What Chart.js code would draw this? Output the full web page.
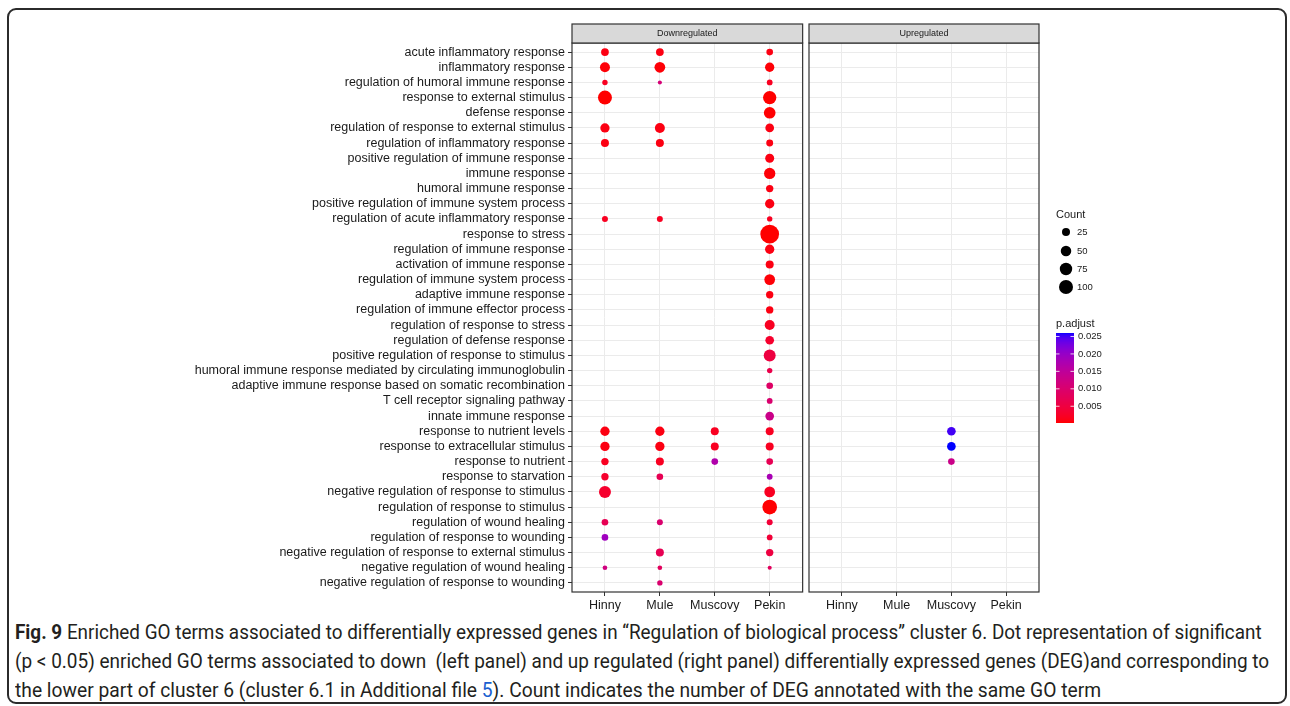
<!DOCTYPE html>
<html>
<head>
<meta charset="utf-8">
<script src="https://cdn.jsdelivr.net/npm/chart.js@4/dist/chart.umd.min.js"></script>
<style>
  body { margin: 0; background: #fff; }
  #wrap { position: relative; width: 1290px; height: 706px; overflow: hidden; }
  #frame { position: absolute; left: 7px; top: 8px; width: 1280px; height: 696px; border: 2px solid #2b2b2b; border-radius: 9px; box-sizing: border-box; }
  canvas { position: absolute; top: 0; }
  #down { left: 180px; }
  #up { left: 800px; }
  .cap { position: absolute; left: 15px; font-family: 'Liberation Sans Narrow', 'Roboto', sans-serif; font-size: 20px; line-height: 28px; color: #231f20; white-space: nowrap; transform-origin: 0 50%; }
  .cap a { color: #1a5fd0; text-decoration: none; }
</style>
</head>
<body>
<div id="wrap">
  <div id="frame"></div>
  <canvas id="down" width="632" height="618"></canvas>
  <canvas id="up" width="490" height="618"></canvas>
  <div class="cap" id="cap1" data-w="1247" style="top:618px"><b>Fig. 9</b> Enriched GO terms associated to differentially expressed genes in “Regulation of biological process” cluster 6. Dot representation of significant</div>
  <div class="cap" id="cap2" data-w="1254" style="top:647px">(p &lt; 0.05) enriched GO terms associated to down &nbsp;(left panel) and up regulated (right panel) differentially expressed genes (DEG)and corresponding to</div>
  <div class="cap" id="cap3" data-w="1086" style="top:676px">the lower part of cluster 6 (cluster 6.1 in Additional file <a>5</a>). Count indicates the number of DEG annotated with the same GO term</div>
</div>
<script>
const species = ['Hinny', 'Mule', 'Muscovy', 'Pekin'];
const terms = [
  'acute inflammatory response',
  'inflammatory response',
  'regulation of humoral immune response',
  'response to external stimulus',
  'defense response',
  'regulation of response to external stimulus',
  'regulation of inflammatory response',
  'positive regulation of immune response',
  'immune response',
  'humoral immune response',
  'positive regulation of immune system process',
  'regulation of acute inflammatory response',
  'response to stress',
  'regulation of immune response',
  'activation of immune response',
  'regulation of immune system process',
  'adaptive immune response',
  'regulation of immune effector process',
  'regulation of response to stress',
  'regulation of defense response',
  'positive regulation of response to stimulus',
  'humoral immune response mediated by circulating immunoglobulin',
  'adaptive immune response based on somatic recombination',
  'T cell receptor signaling pathway',
  'innate immune response',
  'response to nutrient levels',
  'response to extracellular stimulus',
  'response to nutrient',
  'response to starvation',
  'negative regulation of response to stimulus',
  'regulation of response to stimulus',
  'regulation of wound healing',
  'regulation of response to wounding',
  'negative regulation of response to external stimulus',
  'negative regulation of wound healing',
  'negative regulation of response to wounding'
];

const n = null;
// Downregulated panel: gene count and p.adjust per term (null = not enriched)
const downHinnyCount = [23, 44, 8, 100, n, 37, 25, n, n, n, n, 11,
  n, n, n, n, n, n, n, n, n, n, n, n, n,
  37, 37, 20, 20, 69, n, 15, 15, n, 5, n];
const downHinnyP = [0.001, 0.0005, 0.002, 0.0002, n, 0.001, 0.001, n, n, n, n, 0.002,
  n, n, n, n, n, n, n, n, n, n, n, n, n,
  0.001, 0.001, 0.002, 0.003, 0.003, n, 0.007, 0.019, n, 0.012, n];

const downMuleCount = [23, 53, 3, n, n, 44, 25, n, n, n, n, 11,
  n, n, n, n, n, n, n, n, n, n, n, n, n,
  37, 37, 25, 15, n, n, 11, n, 25, 5, 8];
const downMuleP = [0.001, 0.0005, 0.011, n, n, 0.001, 0.001, n, n, n, n, 0.002,
  n, n, n, n, n, n, n, n, n, n, n, n, n,
  0.001, 0.001, 0.002, 0.007, n, n, 0.010, n, 0.007, 0.008, 0.010];

const downMuscovyCount = [n, n, n, n, n, n, n, n, n, n, n, n,
  n, n, n, n, n, n, n, n, n, n, n, n, n,
  25, 25, 15, n, n, n, n, n, n, n, n];
const downMuscovyP = [n, n, n, n, n, n, n, n, n, n, n, n,
  n, n, n, n, n, n, n, n, n, n, n, n, n,
  0.002, 0.002, 0.017, n, n, n, n, n, n, n, n];

const downPekinCount = [15, 37, 10, 89, 65, 31, 17, 34, 60, 20, 37, 8,
  194, 37, 25, 53, 20, 20, 44, 31, 69, 8, 15, 10, 31,
  25, 25, 15, 10, 53, 112, 11, 10, 20, 3, n];
const downPekinP = [0.001, 0.0005, 0.002, 0.0002, 0.0003, 0.001, 0.001, 0.001, 0.0005, 0.001, 0.001, 0.002,
  0.0002, 0.001, 0.001, 0.0005, 0.001, 0.001, 0.002, 0.003, 0.005, 0.006, 0.009, 0.010, 0.013,
  0.002, 0.002, 0.007, 0.018, 0.002, 0.0003, 0.004, 0.004, 0.005, 0.008, n];

// Upregulated panel: only Muscovy has enriched terms
const upMuscovyCount = [n, n, n, n, n, n, n, n, n, n, n, n,
  n, n, n, n, n, n, n, n, n, n, n, n, n,
  31, 31, 15, n, n, n, n, n, n, n, n];
const upMuscovyP = [n, n, n, n, n, n, n, n, n, n, n, n,
  n, n, n, n, n, n, n, n, n, n, n, n, n,
  0.025, 0.026, 0.013, n, n, n, n, n, n, n, n];

const countBreaks = [25, 50, 75, 100];
const pBreaks = [0.005, 0.010, 0.015, 0.020, 0.025];

const allP = [].concat(downHinnyP, downMuleP, downMuscovyP, downPekinP, upMuscovyP).filter(v => v != null);
const pMin = Math.min(...allP);
const pMax = Math.max(...allP);

// dot radius grows with sqrt(count), like ggplot's size scale
const radius = (count) => 1 + 0.6 * Math.sqrt(count);

// red -> blue gradient interpolated in Lab space
const labRed = [53.24, 80.09, 67.2];
const labBlue = [32.3, 79.19, -107.86];
function labToRgb(L, a, b) {
  let y = (L + 16) / 116, x = a / 500 + y, z = y - b / 200;
  const f = (t) => (t ** 3 > 0.008856 ? t ** 3 : (t - 16 / 116) / 7.787);
  x = 0.95047 * f(x); y = f(y); z = 1.08883 * f(z);
  let r = x * 3.2406 + y * -1.5372 + z * -0.4986;
  let g = x * -0.9689 + y * 1.8758 + z * 0.0415;
  let bl = x * 0.0557 + y * -0.204 + z * 1.057;
  const gam = (c) => (c > 0.0031308 ? 1.055 * Math.pow(c, 1 / 2.4) - 0.055 : 12.92 * c);
  return [r, g, bl].map(c => Math.round(Math.max(0, Math.min(1, gam(c))) * 255));
}
function pColor(p) {
  const t = Math.max(0, Math.min(1, (p - pMin) / (pMax - pMin)));
  const lab = labRed.map((v, i) => v + (labBlue[i] - v) * t);
  const [r, g, b] = labToRgb(...lab);
  return `rgb(${r},${g},${b})`;
}

function makeDataset(sIdx, counts, ps) {
  const pts = [];
  counts.forEach((c, i) => {
    if (c != null) pts.push({ x: sIdx, y: i, r: radius(c), count: c, p: ps[i] });
  });
  return {
    label: species[sIdx],
    data: pts,
    backgroundColor: (ctx) => (ctx.raw ? pColor(ctx.raw.p) : '#f00'),
    borderWidth: 0,
    hoverRadius: 0
  };
}

const axisFont = { family: "'Liberation Sans', Arial, sans-serif", size: 12.5 };

const panelFrame = {
  id: 'panelFrame',
  afterDatasetsDraw(chart, args, opts) {
    const { ctx, chartArea: a } = chart;
    const w = a.right - a.left;
    ctx.save();
    ctx.strokeStyle = '#333';
    ctx.lineWidth = 1.2;
    ctx.strokeRect(a.left, a.top, w, a.bottom - a.top);
    ctx.fillStyle = '#d9d9d9';
    ctx.fillRect(a.left, a.top - 19, w, 19);
    ctx.strokeRect(a.left, a.top - 19, w, 19);
    ctx.fillStyle = '#1a1a1a';
    ctx.font = "9px 'Liberation Sans', Arial, sans-serif";
    ctx.textAlign = 'center';
    ctx.textBaseline = 'middle';
    ctx.fillText(opts.title, a.left + w / 2, a.top - 9);
    ctx.restore();
  }
};

const legendPanel = {
  id: 'legendPanel',
  afterDraw(chart) {
    const ctx = chart.ctx;
    const x0 = 256; // 1056 on the page
    ctx.save();
    ctx.fillStyle = '#1a1a1a';
    ctx.textBaseline = 'middle';
    ctx.textAlign = 'left';
    ctx.font = "11px 'Liberation Sans', Arial, sans-serif";
    ctx.fillText('Count', x0, 215);
    ctx.font = "9.5px 'Liberation Sans', Arial, sans-serif";
    const dotY = [232, 251, 269, 287];
    countBreaks.forEach((c, i) => {
      ctx.fillStyle = '#000';
      ctx.beginPath();
      ctx.arc(x0 + 10, dotY[i], radius(c), 0, Math.PI * 2);
      ctx.fill();
      ctx.fillStyle = '#1a1a1a';
      ctx.fillText(String(c), x0 + 21, dotY[i]);
    });

    ctx.font = "11px 'Liberation Sans', Arial, sans-serif";
    ctx.fillText('p.adjust', x0, 324);
    const top = 333, bot = 423, bw = 18;
    for (let y = top; y < bot; y++) {
      const v = pMin + (bot - y - 0.5) / (bot - top) * (pMax - pMin);
      ctx.fillStyle = pColor(v);
      ctx.fillRect(x0, y, bw, 1);
    }
    ctx.font = "9.5px 'Liberation Sans', Arial, sans-serif";
    pBreaks.forEach(v => {
      const y = bot - (v - pMin) / (pMax - pMin) * (bot - top);
      ctx.strokeStyle = 'rgba(255,255,255,0.8)';
      ctx.lineWidth = 1;
      ctx.beginPath();
      ctx.moveTo(x0, y); ctx.lineTo(x0 + 3.5, y);
      ctx.moveTo(x0 + bw - 3.5, y); ctx.lineTo(x0 + bw, y);
      ctx.stroke();
      ctx.fillStyle = '#1a1a1a';
      ctx.fillText(v.toFixed(3), x0 + 22, y);
    });
    ctx.restore();
  }
};

function panelOptions(title, showY, padding) {
  return {
    responsive: false,
    animation: false,
    layout: { padding },
    plugins: {
      legend: { display: false },
      tooltip: { enabled: false },
      panelFrame: { title }
    },
    scales: {
      x: {
        type: 'linear', min: -0.6, max: 3.6,
        afterBuildTicks: (s) => { s.ticks = species.map((_, i) => ({ value: i })); },
        afterFit: (s) => { s.height = 26; },
        ticks: { callback: (v) => species[v], font: axisFont, color: '#1a1a1a', padding: 2, maxRotation: 0, autoSkip: false },
        grid: { color: '#ebebeb', lineWidth: 1, tickColor: '#333', tickLength: 4 },
        border: { display: false }
      },
      y: {
        type: 'linear', min: -0.6, max: 35.6, reverse: true,
        afterBuildTicks: (s) => { s.ticks = terms.map((_, i) => ({ value: i })); },
        afterFit: (s) => { s.width = showY ? 392 : 0; },
        ticks: { display: showY, callback: (v) => terms[v], font: axisFont, color: '#1a1a1a', padding: 3, autoSkip: false },
        grid: { color: '#ebebeb', lineWidth: 1, tickColor: '#333', tickLength: 4, drawTicks: showY },
        border: { display: false }
      }
    }
  };
}

new Chart(document.getElementById('down'), {
  type: 'bubble',
  data: {
    datasets: [
      makeDataset(0, downHinnyCount, downHinnyP),
      makeDataset(1, downMuleCount, downMuleP),
      makeDataset(2, downMuscovyCount, downMuscovyP),
      makeDataset(3, downPekinCount, downPekinP)
    ]
  },
  options: panelOptions('Downregulated', true, { top: 43, left: 0, right: 0, bottom: 0 }),
  plugins: [panelFrame]
});

new Chart(document.getElementById('up'), {
  type: 'bubble',
  data: {
    datasets: [makeDataset(2, upMuscovyCount, upMuscovyP)]
  },
  options: panelOptions('Upregulated', false, { top: 43, left: 9, right: 251, bottom: 0 }),
  plugins: [panelFrame, legendPanel]
});

// stretch caption lines to the widths they have in the figure
document.querySelectorAll('.cap').forEach(el => {
  const target = +el.dataset.w;
  const s = target / el.offsetWidth;
  el.style.transform = `scaleX(${s})`;
});
</script>
</body>
</html>
